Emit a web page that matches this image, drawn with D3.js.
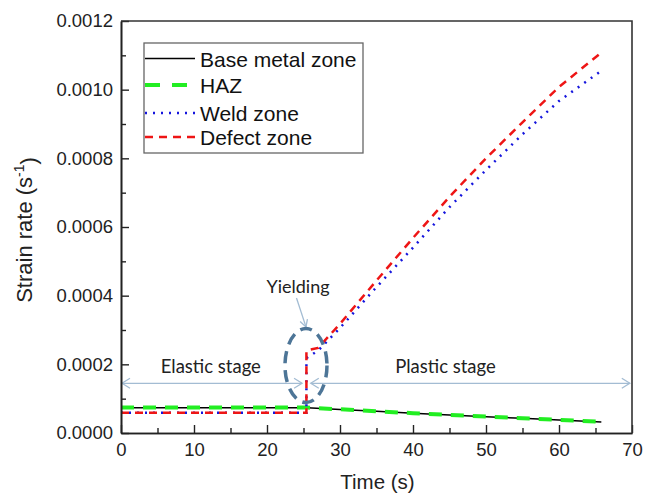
<!DOCTYPE html>
<html>
<head>
<meta charset="utf-8">
<script src="https://cdn.jsdelivr.net/npm/d3@7"></script>
<style>
    body { margin: 0; background: white; }
    svg { font-family: "Liberation Sans", Arial, sans-serif; }
</style>
</head>
<body>
<svg id="chart" width="646" height="494"></svg>
<script>
// time axis points for base metal / HAZ
let timeBase = [0, 25.5, 30, 35, 40, 45, 50, 55, 60, 65.8];
let baseMetal = [0.0000737, 0.0000737, 0.0000688, 0.0000632, 0.0000575, 0.0000525, 0.0000476, 0.0000427, 0.0000378, 0.0000322];
let haz = [0.0000740, 0.0000740, 0.0000690, 0.0000634, 0.0000577, 0.0000527, 0.0000478, 0.0000429, 0.0000380, 0.0000324];

// time axis points for weld / defect (jump at yielding)
let timeWeld = [0, 25.4, 25.4, 27, 30, 35, 40, 45, 50, 55, 60, 65.8];
let weld = [0.0000591, 0.0000591, 0.000218, 0.000240, 0.000306, 0.000425, 0.000540, 0.000658, 0.000766, 0.000870, 0.000967, 0.001055];
let defect = [0.0000591, 0.0000591, 0.000240, 0.000248, 0.000318, 0.000444, 0.000568, 0.000688, 0.000800, 0.000905, 0.001008, 0.001108];

let xTicks = [0, 10, 20, 30, 40, 50, 60, 70];
let yTicks = [0, 0.0002, 0.0004, 0.0006, 0.0008, 0.0010, 0.0012];
let legendLabels = ["Base metal zone", "HAZ", "Weld zone", "Defect zone"];

let margin = {top: 21, right: 14, bottom: 61, left: 121};
let width = 646 - margin.left - margin.right;
let height = 494 - margin.top - margin.bottom;

let svg = d3.select("#chart");
let g = svg.append("g")
    .attr("transform", `translate(${margin.left},${margin.top})`);

let x = d3.scaleLinear().domain([0, 70]).range([0, width]);
let y = d3.scaleLinear().domain([0, 0.0012]).range([height, 0]);

// series styles
let styles = [
    {stroke: "#000000", width: 1.5, dash: null},
    {stroke: "#22ee22", width: 4, dash: "13,9"},
    {stroke: "#1515dd", width: 2.5, dash: "2,6"},
    {stroke: "#ee1515", width: 2.5, dash: "8,6"}
];

let series = [
    {t: timeBase, v: baseMetal},
    {t: timeBase, v: haz},
    {t: timeWeld, v: weld},
    {t: timeWeld, v: defect}
];

// --- annotations (drawn under the data) ---
let annoColor = "#a3bcd3";
let arrowY = 0.0001447;

function arrowHead(px, py, dir) {
    // open "<" arrowhead, dir = -1 points left, 1 points right
    g.append("path")
        .attr("d", `M${px - dir * 8},${py - 5} L${px},${py} L${px - dir * 8},${py + 5}`)
        .attr("fill", "none")
        .attr("stroke", annoColor)
        .attr("stroke-width", 1.3);
}

// elastic stage arrow
g.append("line")
    .attr("x1", x(0)).attr("x2", x(24.8))
    .attr("y1", y(arrowY)).attr("y2", y(arrowY))
    .attr("stroke", annoColor).attr("stroke-width", 1.3);
arrowHead(x(0) + 1, y(arrowY), -1);
arrowHead(x(24.8), y(arrowY), 1);

// plastic stage arrow
g.append("line")
    .attr("x1", x(26.0)).attr("x2", x(69.7))
    .attr("y1", y(arrowY)).attr("y2", y(arrowY))
    .attr("stroke", annoColor).attr("stroke-width", 1.3);
arrowHead(x(26.0), y(arrowY), -1);
arrowHead(x(69.7), y(arrowY), 1);

// yielding pointer
g.append("line")
    .attr("x1", x(24.04)).attr("y1", y(0.000393))
    .attr("x2", x(25.34)).attr("y2", y(0.000309))
    .attr("stroke", annoColor).attr("stroke-width", 1.3);
let ang = Math.atan2(y(0.000309) - y(0.000393), x(25.34) - x(24.04));
let hx = x(25.34), hy = y(0.000309);
g.append("path")
    .attr("d", `M${hx - 8 * Math.cos(ang - 0.5)},${hy - 8 * Math.sin(ang - 0.5)} L${hx},${hy} L${hx - 8 * Math.cos(ang + 0.5)},${hy - 8 * Math.sin(ang + 0.5)}`)
    .attr("fill", "none")
    .attr("stroke", annoColor)
    .attr("stroke-width", 1.3);

let annoFont = "Lato, 'Open Sans', sans-serif";
g.append("text")
    .text("Elastic stage")
    .attr("x", x(12.3)).attr("y", y(0.0001747))
    .attr("text-anchor", "middle")
    .style("font-family", annoFont)
    .style("font-size", "18.5px")
    .attr("fill", "#222");

g.append("text")
    .text("Plastic stage")
    .attr("x", x(44.45)).attr("y", y(0.0001747))
    .attr("text-anchor", "middle")
    .style("font-family", annoFont)
    .style("font-size", "18.5px")
    .attr("fill", "#222");

g.append("text")
    .text("Yielding")
    .attr("x", x(24.25)).attr("y", y(0.0004076))
    .attr("text-anchor", "middle")
    .style("font-family", annoFont)
    .style("font-size", "18px")
    .attr("fill", "#222");

// --- data lines ---
let line = d3.line()
    .x(d => x(d[0]))
    .y(d => y(d[1]));

series.forEach(function (s, i) {
    let pts = s.t.map((t, j) => [t, s.v[j]]);
    g.append("path")
        .datum(pts)
        .attr("d", line)
        .attr("fill", "none")
        .attr("stroke", styles[i].stroke)
        .attr("stroke-width", styles[i].width)
        .attr("stroke-dasharray", styles[i].dash);
});

// yielding ellipse (over the data)
g.append("ellipse")
    .attr("cx", x(25.34)).attr("cy", y(0.0001965))
    .attr("rx", 21).attr("ry", 37)
    .attr("fill", "none")
    .attr("stroke", "#4d7597")
    .attr("stroke-width", 3.5)
    .attr("stroke-dasharray", "12,7");

// --- axes ---
let xAxis = g.append("g")
    .attr("transform", `translate(0,${height})`)
    .call(d3.axisBottom(x).tickValues(xTicks).tickSize(-8).tickPadding(10).tickSizeOuter(0));

let xMinor = g.append("g")
    .attr("transform", `translate(0,${height})`)
    .call(d3.axisBottom(x).tickValues(d3.range(5, 70, 10)).tickSize(-5).tickFormat("").tickSizeOuter(0));

let yAxis = g.append("g")
    .call(d3.axisLeft(y).tickValues(yTicks).tickSize(-8).tickPadding(8).tickSizeOuter(0).tickFormat(d3.format(".4f")));

let yMinor = g.append("g")
    .call(d3.axisLeft(y).tickValues(d3.range(0.0001, 0.0012, 0.0002)).tickSize(-5).tickFormat("").tickSizeOuter(0));

[xAxis, xMinor, yAxis, yMinor].forEach(function (a) {
    a.select(".domain").attr("stroke", "#222").attr("stroke-width", 1.6);
    a.selectAll(".tick line").attr("stroke", "#222").attr("stroke-width", 1.4);
    a.selectAll(".tick text")
        .style("font-family", "'Liberation Sans', Arial, sans-serif")
        .style("font-size", "18.5px")
        .attr("fill", "#222");
});

// top and right frame
g.append("path")
    .attr("d", `M0,0 H${width} V${height}`)
    .attr("fill", "none")
    .attr("stroke", "#333")
    .attr("stroke-width", 1.6);

// axis titles
svg.append("text")
    .text("Time (s)")
    .attr("x", 377.5).attr("y", 489)
    .attr("text-anchor", "middle")
    .style("font-size", "20.5px")
    .attr("fill", "#222");

let yTitle = svg.append("text")
    .attr("transform", "translate(32,230) rotate(-90)")
    .attr("text-anchor", "middle")
    .style("font-size", "22px")
    .attr("fill", "#222");
yTitle.append("tspan").text("Strain rate (s");
yTitle.append("tspan").text("-1").attr("dy", "-0.55em").style("font-size", "14px");
yTitle.append("tspan").text(")").attr("dy", "0.55em");

// --- legend ---
let legend = svg.append("g").attr("transform", "translate(144,43)");
legend.append("rect")
    .attr("width", 219).attr("height", 110)
    .attr("fill", "white")
    .attr("stroke", "#666")
    .attr("stroke-width", 1.3);

let rowY = [15.5, 42, 70, 94];
legendLabels.forEach(function (label, i) {
    legend.append("line")
        .attr("x1", 1).attr("x2", 51)
        .attr("y1", rowY[i]).attr("y2", rowY[i])
        .attr("stroke", styles[i].stroke)
        .attr("stroke-width", styles[i].width)
        .attr("stroke-dasharray", i == 1 ? "15,12" : styles[i].dash);
    legend.append("text")
        .text(label)
        .attr("x", 56).attr("y", rowY[i] + 8)
        .style("font-size", "21px")
        .attr("fill", "#111");
});
</script>
</body>
</html>
